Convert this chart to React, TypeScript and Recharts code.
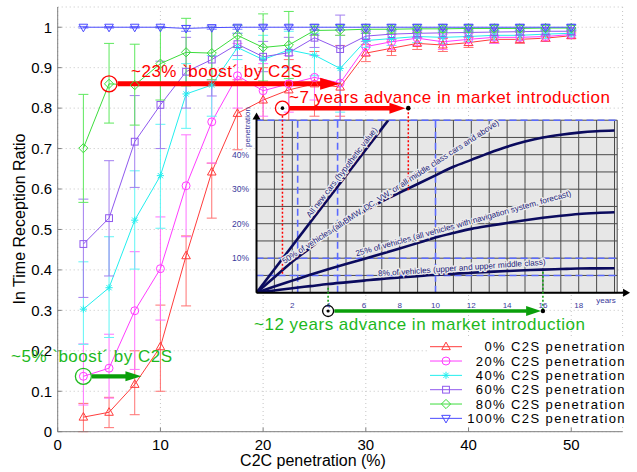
import React from 'react';
import { LineChart, Line, XAxis, YAxis, CartesianGrid, ErrorBar, ReferenceLine, ReferenceDot } from 'recharts';

const FONT = '"Liberation Sans", Arial, Helvetica, sans-serif';

// ---------------- main chart data ----------------
const c2cPenetration = [2.5, 5, 7.5, 10, 12.5, 15, 17.5, 20, 22.5, 25, 27.5, 30, 32.5, 35, 37.5, 40, 42.5, 45, 47.5, 50];

const c2s0 = [0.036, 0.048, 0.117, 0.21, 0.435, 0.642, 0.787, 0.82, 0.845, 0.86, 0.852, 0.936, 0.948, 0.96, 0.956, 0.962, 0.97, 0.97, 0.973, 0.979];
const c2s0Lo = [0.0, 0.01, 0.042, 0.1, 0.311, 0.528, 0.697, 0.74, 0.77, 0.78, 0.78, 0.915, 0.93, 0.945, 0.94, 0.95, 0.96, 0.96, 0.965, 0.972];
const c2s0Hi = [0.07, 0.085, 0.2, 0.313, 0.484, 0.664, 0.87, 0.9, 0.92, 0.94, 0.955, 0.957, 0.965, 0.975, 0.972, 0.975, 0.98, 0.98, 0.982, 0.986];

const c2s20 = [0.137, 0.157, 0.299, 0.403, 0.608, 0.766, 0.88, 0.843, 0.86, 0.876, 0.862, 0.952, 0.964, 0.973, 0.964, 0.97, 0.975, 0.975, 0.977, 0.982];
const c2s20Lo = [0.066, 0.083, 0.154, 0.276, 0.482, 0.664, 0.8, 0.78, 0.79, 0.82, 0.74, 0.93, 0.945, 0.955, 0.945, 0.955, 0.96, 0.962, 0.965, 0.972];
const c2s20Hi = [0.217, 0.241, 0.445, 0.531, 0.734, 0.87, 0.96, 0.91, 0.93, 0.93, 0.98, 0.972, 0.982, 0.99, 0.983, 0.985, 0.99, 0.988, 0.99, 0.992];

const c2s40 = [0.303, 0.356, 0.523, 0.633, 0.835, 0.857, 0.95, 0.92, 0.944, 0.931, 0.898, 0.967, 0.972, 0.977, 0.975, 0.977, 0.98, 0.98, 0.983, 0.985];
const c2s40Lo = [0.216, 0.233, 0.402, 0.503, 0.75, 0.78, 0.92, 0.86, 0.9, 0.88, 0.79, 0.95, 0.955, 0.962, 0.96, 0.965, 0.968, 0.968, 0.972, 0.976];
const c2s40Hi = [0.42, 0.482, 0.645, 0.76, 0.91, 0.93, 0.985, 0.98, 0.99, 0.985, 1.0, 0.985, 0.99, 0.992, 0.99, 0.99, 0.992, 0.992, 0.994, 0.995];

const c2s60 = [0.464, 0.528, 0.717, 0.808, 0.89, 0.92, 0.958, 0.927, 0.937, 0.974, 0.946, 0.978, 0.983, 0.985, 0.986, 0.987, 0.988, 0.989, 0.99, 0.99];
const c2s60Lo = [0.332, 0.385, 0.604, 0.7, 0.8, 0.83, 0.93, 0.89, 0.9, 0.95, 0.77, 0.965, 0.97, 0.975, 0.975, 0.977, 0.978, 0.98, 0.98, 0.98];
const c2s60Hi = [0.575, 0.67, 0.831, 0.916, 0.975, 1.0, 0.985, 0.965, 0.975, 0.995, 1.03, 0.99, 0.995, 0.995, 0.996, 0.997, 0.997, 0.998, 0.998, 0.998];

const c2s80 = [0.701, 0.86, 0.857, 0.91, 0.938, 0.936, 0.98, 0.95, 0.956, 0.992, 0.993, 0.995, 0.995, 0.996, 0.996, 0.997, 0.997, 0.997, 0.998, 0.998];
const c2s80Lo = [0.567, 0.763, 0.758, 0.82, 0.855, 0.87, 0.95, 0.867, 0.873, 0.98, 0.98, 0.985, 0.985, 0.987, 0.987, 0.988, 0.988, 0.988, 0.99, 0.99];
const c2s80Hi = [0.834, 0.96, 0.958, 1.0, 1.022, 1.0, 1.005, 1.033, 1.039, 1.003, 1.005, 1.003, 1.003, 1.003, 1.003, 1.004, 1.004, 1.004, 1.004, 1.004];

const c2s100 = [1, 1, 1, 1, 0.997, 0.999, 1, 1, 1, 1, 1, 1, 1, 1, 1, 1, 1, 1, 1, 1];
const c2s100Lo = [0.998, 0.998, 0.998, 0.998, 0.99, 0.995, 0.995, 0.995, 0.995, 0.993, 0.993, 0.993, 0.993, 0.993, 0.993, 0.993, 0.993, 0.993, 0.993, 0.993];
const c2s100Hi = [1.002, 1.002, 1.002, 1.002, 1.004, 1.003, 1.005, 1.005, 1.005, 1.007, 1.007, 1.007, 1.007, 1.007, 1.007, 1.007, 1.007, 1.007, 1.007, 1.007];

const seriesLabels = ['0% C2S penetration', '20% C2S penetration', '40% C2S penetration', '60% C2S penetration', '80% C2S penetration', '100% C2S penetration'];

const xTicks = [0, 10, 20, 30, 40, 50];
const yTicks = [0, 0.1, 0.2, 0.3, 0.4, 0.5, 0.6, 0.7, 0.8, 0.9, 1];

// ---------------- inset data ----------------
const insetYears = [0, 1, 2, 3, 4, 5, 6, 7, 8, 9, 10, 11, 12, 13, 14, 15, 16, 17, 18, 19, 20];
const allNewCarsYears = [0, 7.36];
const allNewCarsPen = [0, 50];
const pen50 = [0, 4.5, 9, 13, 17, 20.5, 23.5, 26.5, 29, 31.5, 34, 36.5, 38.5, 40.5, 42.3, 43.8, 45, 45.8, 46.4, 46.8, 47];
const pen25 = [0, 1.8, 3.5, 5.2, 6.8, 8.3, 9.8, 11.3, 12.8, 14.4, 16, 17.3, 18.5, 19.4, 20.2, 21, 21.7, 22.3, 22.8, 23.1, 23.3];
const pen8 = [0, 0.65, 1.3, 1.9, 2.5, 3.0, 3.5, 4.0, 4.4, 4.8, 5.2, 5.5, 5.8, 6.05, 6.3, 6.5, 6.7, 6.85, 7.0, 7.05, 7.1];
const insetXTicks = insetYears;
const insetYTicks = [0, 5, 10, 15, 20, 25, 30, 35, 40, 45, 50];
const insetDashedY = [50, 10, 5];
const insetDashedX = [2.3, 4.53, 10];

type Series = { key: string; label: string; values: number[]; lo: number[]; hi: number[]; color: string; errColor: string; marker: string };

const series: Series[] = [
  { key: 's0', label: seriesLabels[0], values: c2s0, lo: c2s0Lo, hi: c2s0Hi, color: '#ff3c3c', errColor: '#ff7272', marker: 'triUp' },
  { key: 's20', label: seriesLabels[1], values: c2s20, lo: c2s20Lo, hi: c2s20Hi, color: '#ff3cff', errColor: '#ff72ff', marker: 'circle' },
  { key: 's40', label: seriesLabels[2], values: c2s40, lo: c2s40Lo, hi: c2s40Hi, color: '#22eeee', errColor: '#5ff5f5', marker: 'star' },
  { key: 's60', label: seriesLabels[3], values: c2s60, lo: c2s60Lo, hi: c2s60Hi, color: '#8f58ee', errColor: '#a27ef0', marker: 'square' },
  { key: 's80', label: seriesLabels[4], values: c2s80, lo: c2s80Lo, hi: c2s80Hi, color: '#3cdc3c', errColor: '#5ee85e', marker: 'diamond' },
  { key: 's100', label: seriesLabels[5], values: c2s100, lo: c2s100Lo, hi: c2s100Hi, color: '#4a4aff', errColor: '#7a7aff', marker: 'triDown' },
];

const mainData = c2cPenetration.map((x, i) => {
  const row: any = { x };
  series.forEach((s) => {
    row[s.key] = s.values[i];
    row[s.key + 'Err'] = [Math.max(0, s.values[i] - s.lo[i]), Math.max(0, s.hi[i] - s.values[i])];
  });
  return row;
});

const toInset = (xs: number[], ys: number[]) => xs.map((yr, i) => ({ yr, v: ys[i] }));

function Marker({ kind, cx, cy, color }: { kind: string; cx: number; cy: number; color: string }) {
  if (cx == null || cy == null) return <g />;
  const common = { fill: 'none', stroke: color, strokeWidth: 1 };
  switch (kind) {
    case 'triUp':
      return <polygon points={`${cx},${cy - 4.6} ${cx - 4.3},${cy + 3} ${cx + 4.3},${cy + 3}`} {...common} />;
    case 'triDown':
      return <polygon points={`${cx},${cy + 4.6} ${cx - 4.3},${cy - 3} ${cx + 4.3},${cy - 3}`} {...common} />;
    case 'circle':
      return <circle cx={cx} cy={cy} r={4} {...common} />;
    case 'square':
      return <rect x={cx - 3.4} y={cy - 3.4} width={6.8} height={6.8} {...common} />;
    case 'diamond':
      return <polygon points={`${cx},${cy - 4.6} ${cx + 4.6},${cy} ${cx},${cy + 4.6} ${cx - 4.6},${cy}`} {...common} />;
    case 'star':
      return (
        <g {...common}>
          <line x1={cx - 3.6} y1={cy} x2={cx + 3.6} y2={cy} />
          <line x1={cx} y1={cy - 3.6} x2={cx} y2={cy + 3.6} />
          <line x1={cx - 2.6} y1={cy - 2.6} x2={cx + 2.6} y2={cy + 2.6} />
          <line x1={cx - 2.6} y1={cy + 2.6} x2={cx + 2.6} y2={cy - 2.6} />
        </g>
      );
    default:
      return <g />;
  }
}

const arrowRight = (len: number, half: number, color: string) => (p: any) => (
  <polygon points={`${p.cx},${p.cy} ${p.cx - len},${p.cy - half} ${p.cx - len},${p.cy + half}`} fill={color} stroke="none" />
);
const arrowUp = (len: number, half: number, color: string) => (p: any) => (
  <polygon points={`${p.cx},${p.cy} ${p.cx - half},${p.cy + len} ${p.cx + half},${p.cy + len}`} fill={color} stroke="none" />
);
const ringDot = (r: number, color: string, dotR: number) => (p: any) => (
  <g>
    <circle cx={p.cx} cy={p.cy} r={r} fill="none" stroke={color} strokeWidth={1.3} />
    {dotR > 0 ? <circle cx={p.cx} cy={p.cy} r={dotR} fill="#000" /> : null}
  </g>
);
const blackDot = (r: number) => (p: any) => <circle cx={p.cx} cy={p.cy} r={r} fill="#000" />;

const fmtY = (v: number) => String(Number(v.toFixed(1)));

const RED = '#ff0000';
const GREEN_TXT = '#1db81d';
const GREEN = '#0a9f0a';
const NAVY = '#0b0b5e';
const INSET_TXT = '#3a3a9c';
const DASH_BLUE = '#5a6aff';

export default function App() {
  return (
    <div style={{ position: 'absolute', left: 0, top: 0, width: 637, height: 472, background: '#fff', overflow: 'hidden', fontFamily: FONT }}>
      {/* main chart */}
      <div style={{ position: 'absolute', left: 0, top: 0 }}>
        <LineChart width={637} height={472} data={mainData} margin={{ top: 7, right: 14.4, bottom: 0, left: 0 }}>
          <CartesianGrid stroke="#c4c4c4" strokeDasharray="1 3" />
          <XAxis type="number" dataKey="x" domain={[0, 55]} ticks={xTicks} interval={0} height={40.3}
            tickSize={-4} tickMargin={11.5} axisLine={{ stroke: '#7f7f7f' }} tickLine={{ stroke: '#7f7f7f' }}
            tick={{ fill: '#000', fontSize: 15, fontFamily: FONT }} allowDataOverflow />
          <YAxis type="number" domain={[0, 1.05]} ticks={yTicks} interval={0} width={57.7}
            tickSize={-4} tickMargin={9.5} axisLine={{ stroke: '#7f7f7f' }} tickLine={{ stroke: '#7f7f7f' }}
            tick={{ fill: '#000', fontSize: 15, fontFamily: FONT }} tickFormatter={fmtY} allowDataOverflow />
          {series.map((s) => (
            <Line key={s.key} dataKey={s.key} stroke={s.color} strokeWidth={1} isAnimationActive={false} activeDot={false}
              dot={(p: any) => <Marker key={`${s.key}-${p.index}`} kind={s.marker} cx={p.cx} cy={p.cy} color={s.color} />}>
              <ErrorBar dataKey={s.key + 'Err'} width={5} stroke={s.errColor} strokeWidth={1} direction="y" isAnimationActive={false} />
            </Line>
          ))}
          {/* ~23% boost arrow */}
          <ReferenceLine segment={[{ x: 5.85, y: 0.86 }, { x: 25.8, y: 0.86 }]} stroke={RED} strokeWidth={5} ifOverflow="visible" />
          <ReferenceDot x={27.5} y={0.86} shape={arrowRight(20, 6, RED)} ifOverflow="visible" />
          <ReferenceDot x={5} y={0.86} shape={ringDot(8, RED, 0)} ifOverflow="visible" />
          {/* ~5% boost arrow */}
          <ReferenceLine segment={[{ x: 3.3, y: 0.137 }, { x: 6.7, y: 0.137 }]} stroke={GREEN} strokeWidth={4.3} ifOverflow="visible" />
          <ReferenceDot x={8.15} y={0.137} shape={arrowRight(16, 5, GREEN)} ifOverflow="visible" />
          <ReferenceDot x={2.5} y={0.137} shape={ringDot(8, '#22bb22', 0)} ifOverflow="visible" />
        </LineChart>
      </div>

      {/* inset chart: market introduction forecast */}
      <div style={{ position: 'absolute', left: 0, top: 0 }}>
        <LineChart width={637} height={472} margin={{ top: 120.2, right: 19.8, bottom: 159.3, left: 226.5 }}>
          <CartesianGrid fill="#e7e7e7" fillOpacity={1} stroke="#4a4a4a" strokeWidth={1} />
          <XAxis type="number" dataKey="yr" domain={[0, 20.15]} ticks={insetXTicks} interval={0} height={20}
            tickLine={false} axisLine={false} tickMargin={4}
            tickFormatter={(v: number) => (v > 0 && v < 20 && v % 2 === 0 ? String(v) : '')}
            tick={{ fill: INSET_TXT, fontSize: 8, fontFamily: FONT }} allowDataOverflow />
          <YAxis type="number" domain={[0, 50]} ticks={insetYTicks} interval={0} width={30}
            tickLine={false} axisLine={false} tickMargin={1.5}
            tickFormatter={(v: number) => (v >= 10 && v <= 40 && v % 10 === 0 ? `${v}%` : '')}
            tick={{ fill: INSET_TXT, fontSize: 8.5, fontFamily: FONT }} allowDataOverflow />
          {insetDashedY.map((y) => (
            <ReferenceLine key={`dy${y}`} y={y} stroke={DASH_BLUE} strokeWidth={1.6} strokeDasharray="7 4" ifOverflow="visible" />
          ))}
          {insetDashedX.map((x) => (
            <ReferenceLine key={`dx${x}`} x={x} stroke={DASH_BLUE} strokeWidth={1.6} strokeDasharray="7 4" ifOverflow="visible" />
          ))}
          <Line data={toInset(allNewCarsYears, allNewCarsPen)} dataKey="v" type="linear" stroke={NAVY} strokeWidth={2.6} dot={false} activeDot={false} isAnimationActive={false} />
          <Line data={toInset(insetYears, pen50)} dataKey="v" type="monotone" stroke={NAVY} strokeWidth={2.6} dot={false} activeDot={false} isAnimationActive={false} />
          <Line data={toInset(insetYears, pen25)} dataKey="v" type="monotone" stroke={NAVY} strokeWidth={2.6} dot={false} activeDot={false} isAnimationActive={false} />
          <Line data={toInset(insetYears, pen8)} dataKey="v" type="monotone" stroke={NAVY} strokeWidth={2.6} dot={false} activeDot={false} isAnimationActive={false} />
          {/* inset axes with arrows */}
          <ReferenceLine segment={[{ x: 0, y: 0 }, { x: 0, y: 51 }]} stroke="#000" strokeWidth={2} ifOverflow="visible" />
          <ReferenceDot x={0} y={52.2} shape={arrowUp(7, 4, '#000')} ifOverflow="visible" />
          <ReferenceLine segment={[{ x: 0, y: 0 }, { x: 20.5, y: 0 }]} stroke="#000" strokeWidth={2} ifOverflow="visible" />
          <ReferenceDot x={20.87} y={0} shape={arrowRight(7, 4, '#000')} ifOverflow="visible" />
          {/* ~7 years advance */}
          <ReferenceLine segment={[{ x: 1.45, y: 51.3 }, { x: 1.45, y: 5.1 }]} stroke={RED} strokeWidth={1.5} strokeDasharray="2 2" ifOverflow="visible" />
          <ReferenceLine segment={[{ x: 8.48, y: 53.5 }, { x: 8.48, y: 29.5 }]} stroke={RED} strokeWidth={1.5} strokeDasharray="2 2" ifOverflow="visible" />
          <ReferenceLine segment={[{ x: 1.85, y: 53.5 }, { x: 7.5, y: 53.5 }]} stroke={RED} strokeWidth={4.5} ifOverflow="visible" />
          <ReferenceDot x={8.32} y={53.5} shape={arrowRight(16, 5.5, RED)} ifOverflow="visible" />
          <ReferenceDot x={8.48} y={53.5} shape={blackDot(2.3)} ifOverflow="visible" />
          <ReferenceDot x={1.45} y={53.5} shape={ringDot(7, RED, 1.8)} ifOverflow="visible" />
          {/* ~12 years advance */}
          <ReferenceLine segment={[{ x: 4, y: 1.4 }, { x: 4, y: -3.7 }]} stroke={GREEN} strokeWidth={1.5} strokeDasharray="2 2" ifOverflow="visible" />
          <ReferenceLine segment={[{ x: 16, y: 6.1 }, { x: 16, y: -5.3 }]} stroke={GREEN} strokeWidth={1.5} strokeDasharray="2 2" ifOverflow="visible" />
          <ReferenceLine segment={[{ x: 4.35, y: -5.3 }, { x: 15.1, y: -5.3 }]} stroke={GREEN} strokeWidth={3.5} ifOverflow="visible" />
          <ReferenceDot x={15.9} y={-5.3} shape={arrowRight(15, 5, GREEN)} ifOverflow="visible" />
          <ReferenceDot x={16} y={-5.3} shape={blackDot(2.2)} ifOverflow="visible" />
          <ReferenceDot x={4} y={-5.3} shape={ringDot(5.5, '#000', 1.6)} ifOverflow="visible" />
        </LineChart>
      </div>

      {/* text and legend overlay */}
      <svg width={637} height={472} style={{ position: 'absolute', left: 0, top: 0, pointerEvents: 'none' }} fontFamily={FONT}>
        <text x={25} y={219} transform="rotate(-90 25 219)" textAnchor="middle" fontSize={16} fill="#000">In Time Reception Ratio</text>
        <text x={313} y={465.5} textAnchor="middle" fontSize={16} fill="#000">C2C penetration (%)</text>

        <text x={131} y={77} fontSize={17} letterSpacing={0.5} fill={RED}>~23% `boost´ by C2S</text>
        <text x={289} y={103} fontSize={17} letterSpacing={0.5} fill={RED}>~7 years advance in market introduction</text>
        <text x={254} y={330} fontSize={17} letterSpacing={0.5} fill={GREEN_TXT}>~12 years advance in market introduction</text>
        <text x={11} y={361.5} fontSize={17} letterSpacing={0.5} fill={GREEN_TXT}>~5% `boost´ by C2S</text>

        {/* inset labels */}
        <text x={250} y={127} transform="rotate(-90 250 127)" textAnchor="middle" fontSize={8} fill={INSET_TXT}>penetration</text>
        <text x={606} y={302.5} textAnchor="middle" fontSize={8} fill={INSET_TXT}>years</text>
        <g fontSize={8.2} fill="#24247a" stroke="#ececec" strokeWidth={2.5} style={{ paintOrder: 'stroke' }}>
          <text x={344} y={174} transform="rotate(-52.6 344 174)" textAnchor="middle">All new cars (hypothetic value)</text>
          <text x={392} y={194} transform="rotate(-33 392 194)" textAnchor="middle">50% of vehicles (all BMW, DC, VW, or all middle class cars and above)</text>
          <text x={464} y={226} transform="rotate(-15.7 464 226)" textAnchor="middle">25% of vehicles (all vehicles with navigation system, forecast)</text>
          <text x={462} y={270.5} transform="rotate(-4 462 270.5)" textAnchor="middle">8% of vehicles (upper and upper middle class)</text>
        </g>

        {/* legend */}
        <rect x={427} y={337} width={210} height={90} fill="#fff" />
        {series.map((s, i) => {
          const y = 346.7 + i * 14.33;
          return (
            <g key={`leg-${s.key}`}>
              <line x1={430} x2={462} y1={y} y2={y} stroke={s.color} strokeWidth={1} />
              <Marker kind={s.marker} cx={446} cy={y} color={s.color} />
              <text x={626} y={y + 4.6} textAnchor="end" fontSize={13} letterSpacing={1.4} fill="#000">{s.label}</text>
            </g>
          );
        })}
      </svg>
    </div>
  );
}
